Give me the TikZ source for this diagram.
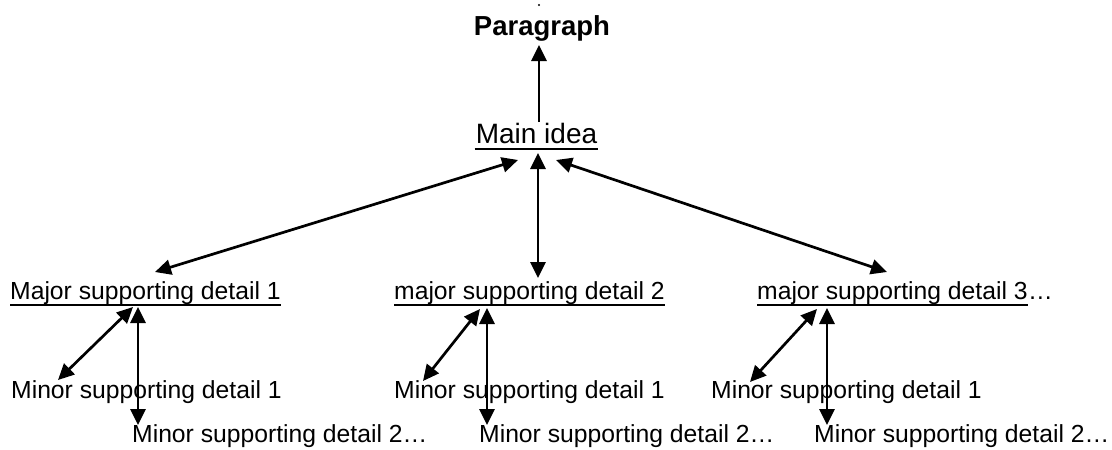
\documentclass[tikz,border=0pt]{standalone}
\usepackage{fontspec}
\setmainfont{Liberation Sans}
\usetikzlibrary{arrows.meta,calc}
\begin{document}
\begin{tikzpicture}[x=1pt,y=-1pt,
  txt/.style={inner sep=0pt, anchor=base west, font=\fontsize{24.7}{29}\selectfont},
  big/.style={inner sep=0pt, anchor=base, font=\fontsize{28}{33}\selectfont},
  tip/.tip={Triangle[length=16pt,width=15pt]},
  link/.style={line width=2.7pt, tip-tip},
  uplink/.style={line width=2.7pt, -tip},
  uline/.style={line width=2pt},
]
\useasboundingbox (0,0) rectangle (1112,450);

% top of the tree
\fill (539,5) circle (1.2pt);
\node[big, font=\fontsize{27.5}{33}\selectfont\bfseries] (para) at (542,35) {Paragraph};
\node[big] (main) at (536.5,143) {Main idea};
\draw[line width=2.8pt] ($(main.base west)+(-1,6)$) -- ($(main.base east)+(1,6)$);

% major supporting details
\node[txt] (maj1) at (10,299) {Major supporting detail 1};
\node[txt] (maj2) at (394,299) {major supporting detail 2};
\node[txt] (maj3) at (757,299) {major supporting detail 3};
\node[txt] (dots) at (maj3.base east) {…};
\foreach \n in {maj1,maj2,maj3}
  \draw[uline] ($(\n.base west)+(0,5.5)$) -- ($(\n.base east)+(0,5.5)$);

% minor supporting details
\node[txt] (min1a) at (11,398) {Minor supporting detail 1};
\node[txt] (min1b) at (132,442) {Minor supporting detail 2…};
\node[txt] (min2a) at (394,398) {Minor supporting detail 1};
\node[txt] (min2b) at (479,442) {Minor supporting detail 2…};
\node[txt] (min3a) at (711,398) {Minor supporting detail 1};
\node[txt] (min3b) at (814,442) {Minor supporting detail 2…};

% connector ends
\coordinate (para-in) at (539,45);
\coordinate (main-out) at (539,122);
\coordinate (main-l) at (518,160);
\coordinate (main-c) at (538,153);
\coordinate (main-r) at (556,160);
\coordinate (maj1-in) at (155,272);
\coordinate (maj2-in) at (538,278);
\coordinate (maj3-in) at (887,272);
\coordinate (maj1-d) at (133,307);
\coordinate (maj1-v) at (138,307);
\coordinate (maj2-d) at (480,309);
\coordinate (maj2-v) at (487,308);
\coordinate (maj3-d) at (817,309);
\coordinate (maj3-v) at (827,308);
\coordinate (min1a-in) at (58,380);
\coordinate (min1b-in) at (138,425);
\coordinate (min2a-in) at (423,381);
\coordinate (min2b-in) at (487,425);
\coordinate (min3a-in) at (750,382);
\coordinate (min3b-in) at (827,425);

% connectors
\draw[uplink] (main-out) -- (para-in);
\draw[link] (maj1-in) -- (main-l);
\draw[link] (main-c) -- (maj2-in);
\draw[link] (main-r) -- (maj3-in);
\draw[link] (min1a-in) -- (maj1-d);
\draw[link] (maj1-v) -- (min1b-in);
\draw[link] (min2a-in) -- (maj2-d);
\draw[link] (maj2-v) -- (min2b-in);
\draw[link] (min3a-in) -- (maj3-d);
\draw[link] (maj3-v) -- (min3b-in);
\end{tikzpicture}
\end{document}
